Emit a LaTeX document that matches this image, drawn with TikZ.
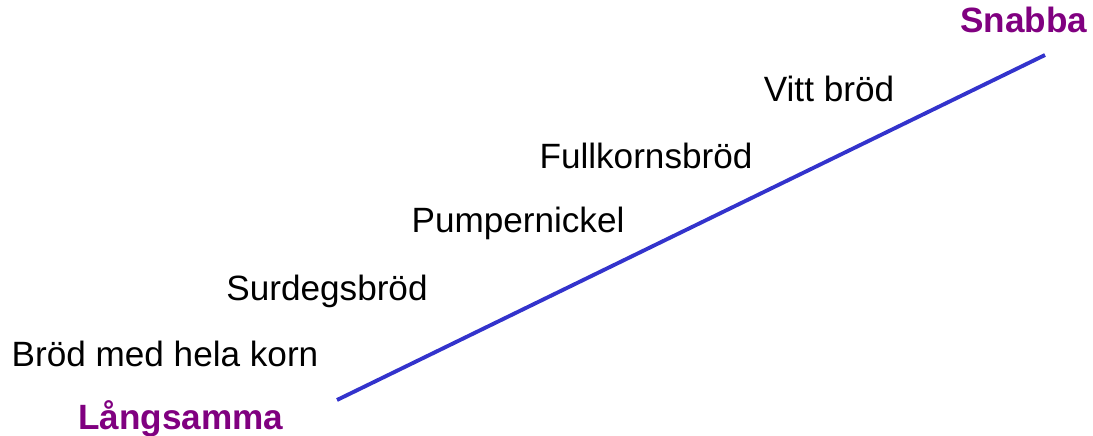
\documentclass[tikz,border=0pt]{standalone}
\usepackage{fontspec}
\setmainfont{Liberation Sans}
\usepackage{xcolor}
\definecolor{brodpurple}{RGB}{128,0,128}
\definecolor{brodblue}{RGB}{51,51,204}
\usepackage{tikz}
\usetikzlibrary{positioning}

\begin{document}
\begin{tikzpicture}[
  x=0.02cm, y=-0.02cm,
  brod/.style={
    anchor=base, inner sep=0pt,
    font=\fontsize{20}{24}\selectfont\color{black}
  },
  ande/.style={
    anchor=base, inner sep=0pt,
    font=\fontsize{20}{24}\selectfont\bfseries\color{brodpurple}
  },
  linje/.style={line width=2.2pt, color=brodblue},
]

\useasboundingbox (0,0) rectangle (1093,436);

%% Skalans ändar
\node[ande] (snabba)    at (1024, 32)  {Snabba};
\node[ande] (langsamma) at (181, 429)  {Långsamma};

%% Brödsorter
\node[brod] (vitt)   at (829, 101)  {Vitt bröd};
\node[brod] (full)   at (646, 168)  {Fullkornsbröd};
\node[brod] (pump)   at (518, 232)  {Pumpernickel};
\node[brod] (surdeg) at (327, 300)  {Surdegsbröd};
\node[brod] (hela)   at (165, 366)  {Bröd med hela korn};

%% Linjen
\coordinate (lo) at (337, 400);
\coordinate (hi) at (1045, 55);
\draw[linje] (lo) -- (hi);

\end{tikzpicture}
\end{document}
